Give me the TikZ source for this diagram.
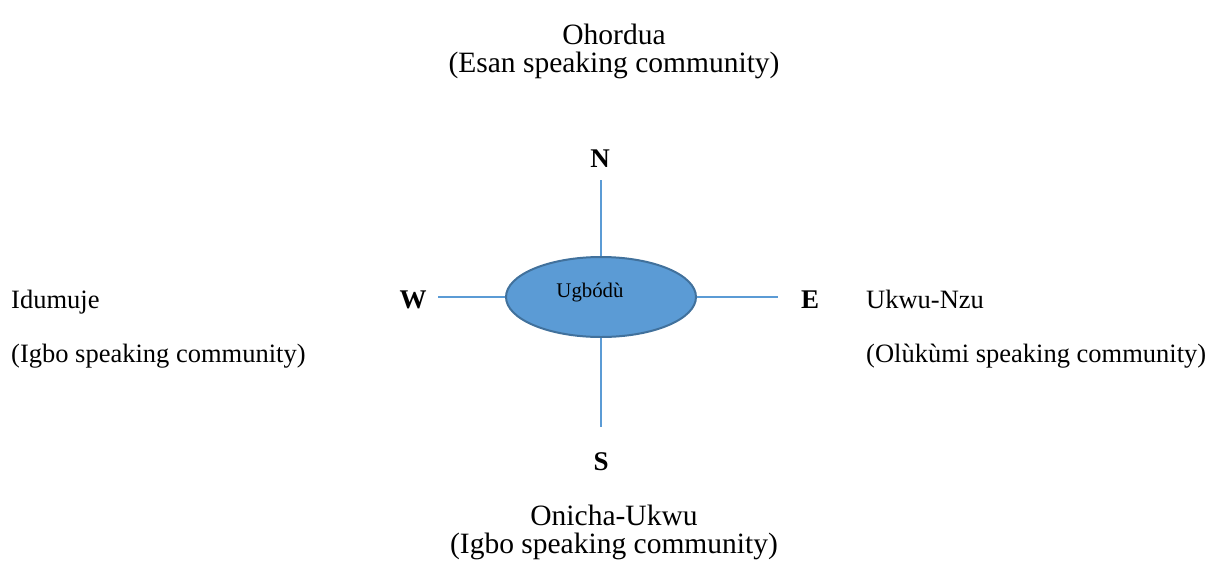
\documentclass[tikz,border=0pt]{standalone}
\usepackage{fontspec}
\setmainfont{Liberation Serif}
\usetikzlibrary{shapes.geometric}
\definecolor{skyfill}{HTML}{5B9BD5}
\definecolor{skyedge}{HTML}{41719C}
\tikzset{
  bigtext/.style={font=\fontsize{29.5}{29}\selectfont, inner sep=0pt},
  sidetext/.style={font=\fontsize{26.5}{30}\selectfont, inner sep=0pt, anchor=base west},
  compass/.style={font=\fontsize{27}{30}\bfseries\selectfont, inner sep=0pt, anchor=base},
  axis/.style={color=skyfill, line width=1.4pt}
}
\begin{document}
\begin{tikzpicture}[x=1pt,y=-1pt]
\useasboundingbox (0,0) rectangle (1225,579);
\node[bigtext, anchor=base] (ohordua) at (614,44) {Ohordua};
\node[bigtext, anchor=base] (esan) at (614,72) {(Esan speaking community)};
\node[draw=skyedge, fill=skyfill, line width=2pt, ellipse, minimum width=190pt, minimum height=80pt, inner sep=0pt] (ugbodu) at (601,297) {};
\node[font=\fontsize{20.8}{24}\selectfont, inner sep=0pt, anchor=base] (ugname) at (590,297) {Ugbódù};
\coordinate (ntip) at (601,180);
\coordinate (stip) at (601,427);
\coordinate (wtip) at (438,297);
\coordinate (etip) at (778,297);
\draw[axis] (ntip) -- (ugbodu.north);
\draw[axis] (ugbodu.south) -- (stip);
\draw[axis] (wtip) -- (ugbodu.west);
\draw[axis] (ugbodu.east) -- (etip);
\node[compass] (north) at (600,167) {N};
\node[compass] (south) at (601,470) {S};
\node[compass] (west) at (413,308) {W};
\node[compass] (east) at (810,308) {E};
\node[sidetext] (idumuje) at (11,308) {Idumuje};
\node[sidetext] (igbow) at (11,362) {(Igbo speaking community)};
\node[sidetext] (ukwunzu) at (866,308) {Ukwu-Nzu};
\node[sidetext] (olukumi) at (866,362) {(Olùkùmi speaking community)};
\node[bigtext, anchor=base] (onicha) at (614,525) {Onicha-Ukwu};
\node[bigtext, anchor=base] (igbos) at (614,553) {(Igbo speaking community)};
\end{tikzpicture}
\end{document}
